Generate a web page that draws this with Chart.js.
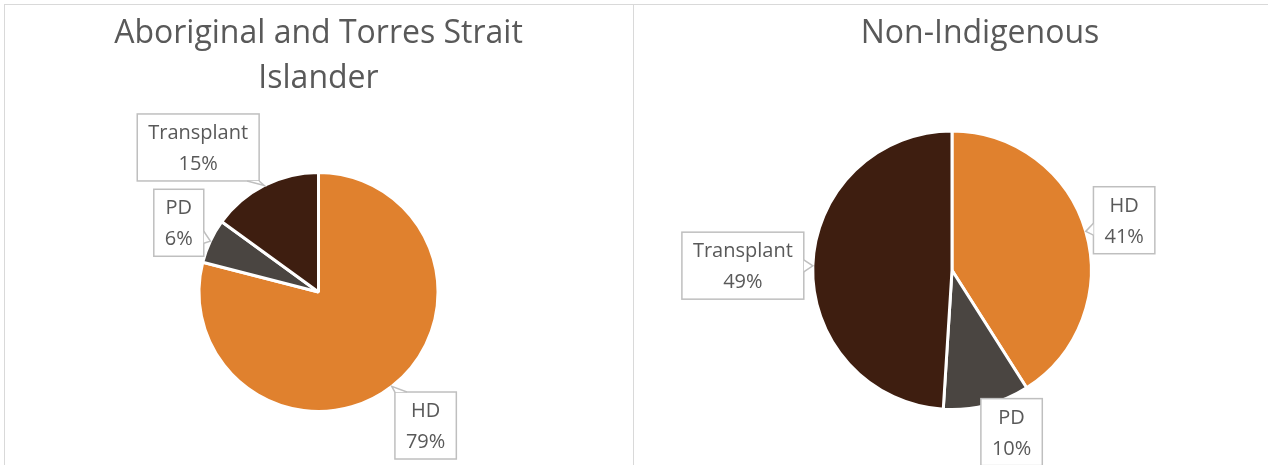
<!DOCTYPE html>
<html>
<head>
<meta charset="utf-8">
<script src="https://cdn.jsdelivr.net/npm/chart.js@4.4.0/dist/chart.umd.min.js"></script>
<style>
  body { margin: 0; background: #fff; width: 1268px; height: 465px; overflow: hidden; position: relative; }
  .panel { position: absolute; top: 4px; height: 480px; border: 1px solid #d9d9d9; box-sizing: border-box; }
  #panelLeft { left: 4px; width: 630px; }
  #panelRight { left: 633px; width: 694px; }
  canvas { position: absolute; top: 0; left: 0; }
</style>
</head>
<body>
<div class="panel" id="panelLeft"><canvas id="leftChart" width="627" height="460"></canvas></div>
<div class="panel" id="panelRight"><canvas id="rightChart" width="692" height="460"></canvas></div>
<script>
// data
const categories = ['HD', 'PD', 'Transplant'];
const indigenousValues = [79, 6, 15];
const nonIndigenousValues = [41, 10, 49];
const sliceColors = ['#E0812E', '#4A4541', '#3E1E10'];
const leftTitle = ['Aboriginal and Torres Strait', 'Islander'];
const rightTitle = 'Non-Indigenous';

const textColor = '#595959';
const fontFamily = '"Open Sans"';
const labelSize = 20;

// callout labels, placed along each slice's mid angle
const calloutPlugin = {
    id: 'callouts',
    afterDatasetsDraw(chart, args, opts) {
        const ctx = chart.ctx;
        const meta = chart.getDatasetMeta(0);
        const values = chart.data.datasets[0].data;
        const total = values.reduce((a, b) => a + b, 0);
        ctx.save();
        ctx.font = labelSize + 'px ' + fontFamily;
        meta.data.forEach((arc, i) => {
            const p = arc.getProps(['x', 'y', 'startAngle', 'endAngle', 'outerRadius'], true);
            const mid = (p.startAngle + p.endAngle) / 2;
            const place = opts.place[i];
            const tip = { x: p.x + Math.cos(mid) * p.outerRadius, y: p.y + Math.sin(mid) * p.outerRadius };
            const bx = p.x + Math.cos(mid) * (p.outerRadius + place.d) + place.dx;
            const by = p.y + Math.sin(mid) * (p.outerRadius + place.d) + place.dy;
            const lines = [chart.data.labels[i], Math.round(values[i] / total * 100) + '%'];
            const tw = Math.max(...lines.map(l => ctx.measureText(l).width));
            const w = tw + 22, h = 67;
            drawCallout(ctx, bx, by, w, h, tip);
            ctx.fillStyle = textColor;
            ctx.textAlign = 'center';
            ctx.textBaseline = 'alphabetic';
            const cap = labelSize * 0.714;
            ctx.fillText(lines[0], bx, by - 15.5 + cap / 2);
            ctx.fillText(lines[1], bx, by + 15.5 + cap / 2);
        });
        ctx.restore();
    }
};

// empty box on the right so the plot area sits left of the (full width) title
const spacerPlugin = {
    id: 'spacer',
    beforeInit(chart, args, opts) {
        if (!opts.width) return;
        Chart.layouts.addBox(chart, {
            position: 'right', weight: 0, fullSize: false,
            options: {},
            width: 0, height: 0, left: 0, top: 0, right: 0, bottom: 0,
            isHorizontal() { return false; },
            update(maxWidth, maxHeight) { this.width = opts.width; this.height = maxHeight; },
            draw() {}
        });
    }
};

function drawCallout(ctx, bx, by, w, h, tip) {
    const l = bx - w / 2, r = bx + w / 2, t = by - h / 2, b = by + h / 2;
    ctx.fillStyle = '#fff';
    ctx.strokeStyle = '#bfbfbf';
    ctx.lineWidth = 1.5;
    ctx.fillRect(l, t, w, h);
    ctx.strokeRect(l, t, w, h);
    const dx = tip.x - bx, dy = tip.y - by;
    if (Math.abs(dx) <= w / 2 && Math.abs(dy) <= h / 2) return;
    const half = 6;
    let p1, p2;
    if (Math.abs(dx) / (w / 2) > Math.abs(dy) / (h / 2)) {
        const side = dx > 0 ? r : l;
        let yc = by + dy * ((w / 2) / Math.abs(dx));
        yc = Math.min(Math.max(yc, t + half), b - half);
        p1 = { x: side, y: yc - half };
        p2 = { x: side, y: yc + half };
    } else {
        const side = dy > 0 ? b : t;
        let xc = bx + dx * ((h / 2) / Math.abs(dy));
        xc = Math.min(Math.max(xc, l + half), r - half);
        p1 = { x: xc - half, y: side };
        p2 = { x: xc + half, y: side };
    }
    ctx.beginPath();
    ctx.moveTo(p1.x, p1.y);
    ctx.lineTo(tip.x, tip.y);
    ctx.lineTo(p2.x, p2.y);
    ctx.closePath();
    ctx.fill();
    ctx.beginPath();
    ctx.moveTo(p1.x, p1.y);
    ctx.lineTo(tip.x, tip.y);
    ctx.lineTo(p2.x, p2.y);
    ctx.stroke();
}

function makePie(id, values, title, titlePad, layoutPad, spacer, place) {
    return new Chart(document.getElementById(id), {
        type: 'pie',
        data: {
            labels: categories,
            datasets: [{
                data: values,
                backgroundColor: sliceColors,
                borderColor: '#ffffff',
                borderWidth: 3
            }]
        },
        options: {
            responsive: false,
            animation: false,
            layout: { padding: layoutPad },
            plugins: {
                legend: { display: false },
                tooltip: { enabled: false },
                title: {
                    display: true,
                    text: title,
                    color: textColor,
                    font: { family: fontFamily, size: 32, weight: 'normal', lineHeight: 1.39 },
                    padding: titlePad
                },
                spacer: { width: spacer },
                callouts: { place: place }
            }
        },
        plugins: [spacerPlugin, calloutPlugin]
    });
}

makePie('leftChart', indigenousValues, leftTitle,
    { top: 7, bottom: 70 }, { bottom: 52 }, 0,
    [{ d: 52, dx: 2, dy: -2 }, { d: 36, dx: 1, dy: -3 }, { d: 64, dx: -37, dy: 19 }]);

makePie('rightChart', nonIndigenousValues, rightTitle,
    { top: 7, bottom: 73 }, { bottom: 54 }, 56,
    [{ d: 40, dx: 0, dy: 0 }, { d: 32, dx: 17, dy: -4 }, { d: 70, dx: 0, dy: 2 }]);
</script>
</body>
</html>
